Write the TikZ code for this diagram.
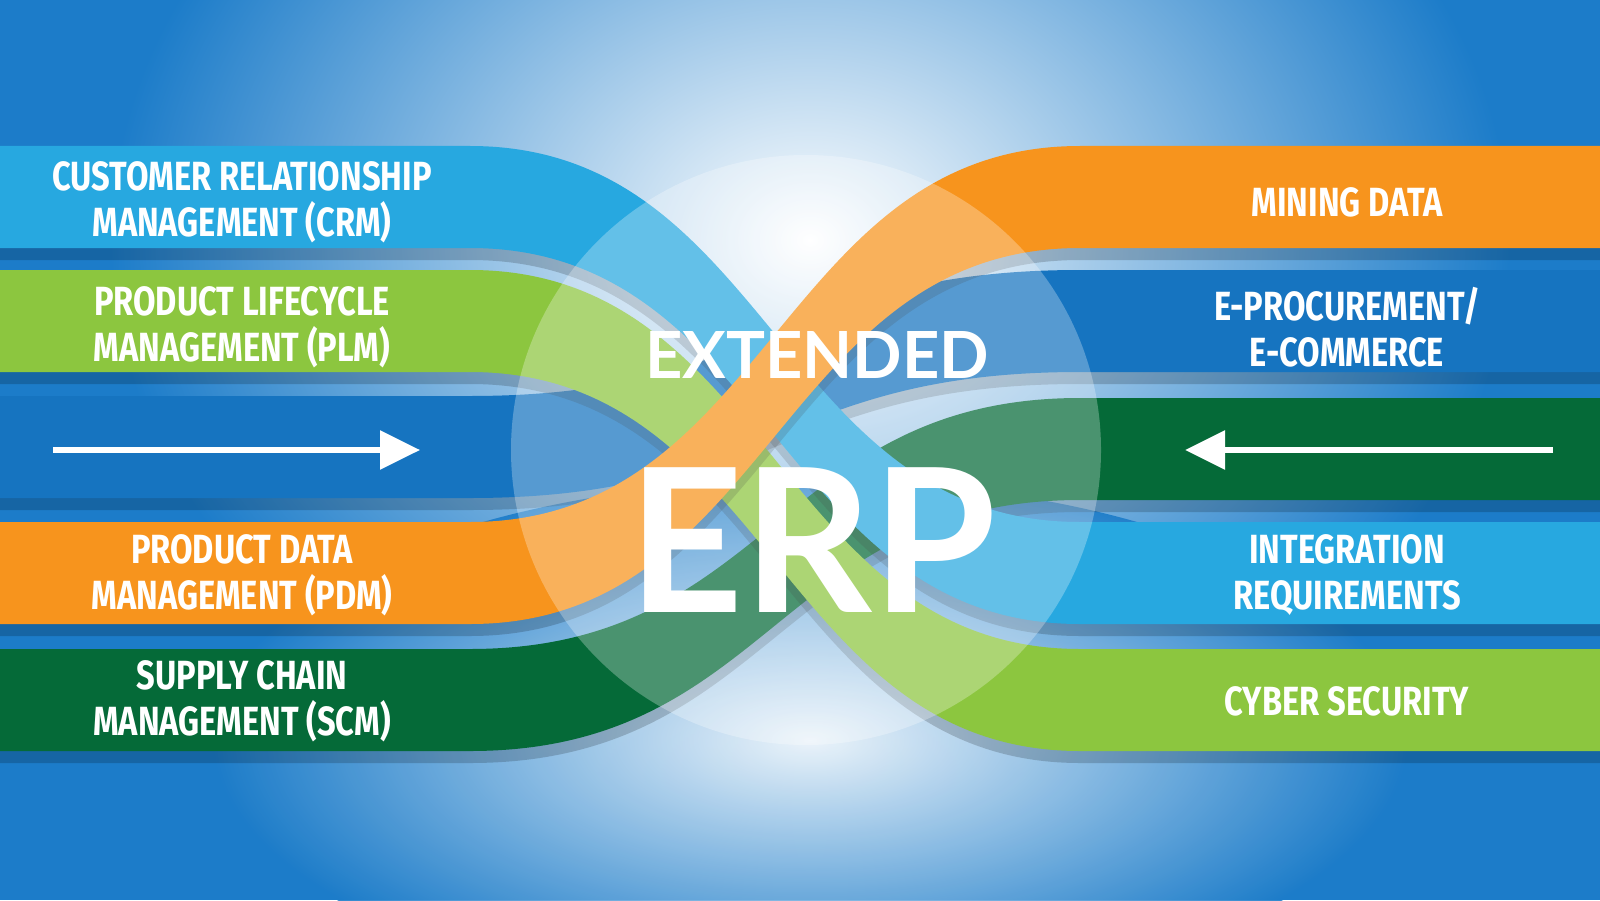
\documentclass[tikz,border=0pt]{standalone}
\usepackage{fontspec}
\newfontfamily\lab[FakeStretch=0.8]{Fira Sans}
\newfontfamily\erpfont{Lato}
\usetikzlibrary{arrows.meta}
\definecolor{lblue}{HTML}{27A8E0}
\definecolor{lgreen}{HTML}{8CC63F}
\definecolor{dblue}{HTML}{1674C0}
\definecolor{orng}{HTML}{F7941D}
\definecolor{dgreen}{HTML}{056A38}
\definecolor{bgblue}{HTML}{1C7CC9}
\newcommand\band[3]{%
  \fill[black,opacity=.18] (-0.1,{#2-0.1}) -- (4.7,{#2-0.1}) .. controls (7.7,{#2-0.1}) and (7.8,{#3-0.1}) .. (10.8,{#3-0.1}) -- (16.1,{#3-0.1}) -- (16.1,{#3-1.14}) -- (10.8,{#3-1.14}) .. controls (7.8,{#3-1.14}) and (7.7,{#2-1.14}) .. (4.7,{#2-1.14}) -- (-0.1,{#2-1.14}) -- cycle;
  \fill[#1] (-0.1,#2) -- (4.7,#2) .. controls (7.7,#2) and (7.8,#3) .. (10.8,#3) -- (16.1,#3) -- (16.1,{#3-1.02}) -- (10.8,{#3-1.02}) .. controls (7.8,{#3-1.02}) and (7.7,{#2-1.02}) .. (4.7,{#2-1.02}) -- (-0.1,{#2-1.02}) -- cycle;}
\tikzset{lbl/.style={text=white,font=\lab\bfseries\fontsize{11.6}{13.2}\selectfont,align=center},
 arr/.style={white,line width=1.6pt,-{Triangle[length=0.4cm,width=0.38cm]}}}
\begin{document}
\begin{tikzpicture}
\useasboundingbox (0,0) rectangle (16,9);
\clip (0,0) rectangle (16,9);
\fill[bgblue] (0,0) rectangle (16,9);
\shade[inner color=white,outer color=bgblue] (8.1,6.6) ellipse (7 and 5.6);
\shade[inner color=white,outer color=bgblue,opacity=.9] (8.1,1.6) ellipse (6 and 2.6);
\band{dblue}{5.04}{6.30}
\band{dgreen}{2.51}{5.02}
\band{lgreen}{6.30}{2.51}
\band{lblue}{7.54}{3.78}
\band{orng}{3.78}{7.54}
\fill[white,opacity=.28] (8.06,4.5) circle (2.95);
\node[lbl] (crm) at (2.42,6.98) {CUSTOMER RELATIONSHIP\\MANAGEMENT (CRM)};
\node[lbl] (plm) at (2.42,5.73) {PRODUCT LIFECYCLE\\MANAGEMENT (PLM)};
\node[lbl] (pdm) at (2.42,3.25) {PRODUCT DATA\\MANAGEMENT (PDM)};
\node[lbl] (scm) at (2.42,1.99) {SUPPLY CHAIN\\MANAGEMENT (SCM)};
\node[lbl] (mine) at (13.47,6.98) {MINING DATA};
\node[lbl] (eproc) at (13.47,5.73) {E-PROCUREMENT/\\E-COMMERCE};
\node[lbl] (integ) at (13.47,3.25) {INTEGRATION\\REQUIREMENTS};
\node[lbl] (cyber) at (13.47,1.99) {CYBER SECURITY};
\coordinate (la) at (0.53,4.5); \coordinate (lb) at (4.2,4.5);
\coordinate (ra) at (15.53,4.5); \coordinate (rb) at (11.85,4.5);
\draw[arr] (la) -- (lb);
\draw[arr] (ra) -- (rb);
\node[text=white,font=\erpfont\bfseries\fontsize{18.5}{18.5}\selectfont] (ext) at (8.17,5.45) {EXTENDED};
\node[text=white,font=\erpfont\bfseries\fontsize{57}{57}\selectfont] (erp) at (8.12,3.6) {ERP};
\end{tikzpicture}
\end{document}
